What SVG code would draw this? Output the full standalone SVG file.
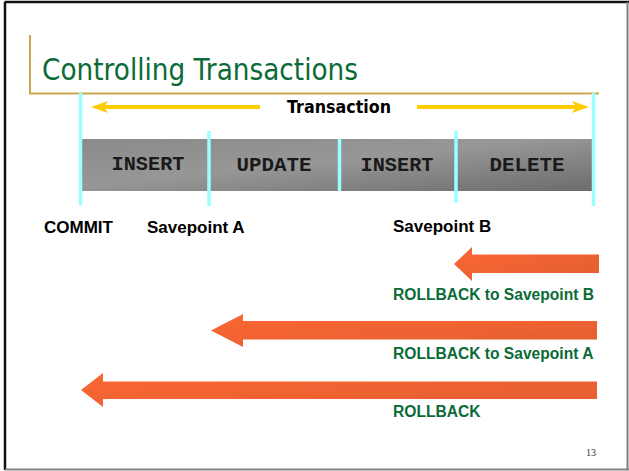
<svg xmlns="http://www.w3.org/2000/svg" width="629" height="471" viewBox="0 0 629 471">
<defs>
<linearGradient id="barGrad" x1="0" y1="0" x2="1" y2="1">
<stop offset="0" stop-color="#8a8a8a"/>
<stop offset="0.45" stop-color="#979797"/>
<stop offset="1" stop-color="#6c6c6c"/>
</linearGradient>
<linearGradient id="arrGrad" x1="0" y1="0" x2="1" y2="1">
<stop offset="0" stop-color="#FB6734"/>
<stop offset="1" stop-color="#E35E2F"/>
</linearGradient>
</defs>
<style>
.title{font-family:"DejaVu Sans",Tahoma,sans-serif;font-size:30px;fill:#0B6B38}
.tx{font-family:"DejaVu Sans",Tahoma,sans-serif;font-size:17px;font-weight:bold;fill:#000}
.op{font-family:"Liberation Mono","Courier New",monospace;font-size:21px;font-weight:bold;fill:#1a1a1a;text-anchor:middle}
.lbl{font-family:"Liberation Sans",Arial,sans-serif;font-size:17px;font-weight:bold;fill:#000}
.rb{font-family:"Liberation Sans",Arial,sans-serif;font-size:15.6px;font-weight:bold;fill:#0B6B38}
.cyan{stroke:#99FFFF;stroke-width:3.5;fill:none}
.gold{stroke:#C9A84F;stroke-width:2;fill:none}
.ylw{stroke:#FFCC00;stroke-width:4;fill:none}
.arrow{fill:url(#arrGrad)}
.pg{font-family:"Liberation Serif","Times New Roman",serif;font-size:10px;fill:#333}
</style>
<rect x="0" y="0" width="629" height="471" fill="#fff"/>
<!-- slide frame -->
<line x1="4.5" y1="2" x2="629" y2="2" stroke="#111" stroke-width="2.5"/>
<line x1="5" y1="2" x2="5" y2="470" stroke="#111" stroke-width="2.5"/>
<line x1="5" y1="469.5" x2="629" y2="469.5" stroke="#808080" stroke-width="2"/>
<line x1="627.5" y1="2" x2="627.5" y2="470" stroke="#808080" stroke-width="2"/>
<g id="title">
<path class="gold" d="M30 35 V93.5 H599"/>
<text class="title" x="42" y="80" textLength="316" lengthAdjust="spacingAndGlyphs">Controlling Transactions</text>
</g>
<g id="transaction">
<line class="ylw" x1="100" y1="107" x2="260" y2="107"/>
<path d="M91 107 L108 101 L104 107 L108 113 Z" fill="#FFCC00"/>
<line class="ylw" x1="417" y1="107" x2="580" y2="107"/>
<path d="M589 107 L572 101 L576 107 L572 113 Z" fill="#FFCC00"/>
<text class="tx" x="287" y="113" textLength="104" lengthAdjust="spacingAndGlyphs">Transaction</text>
</g>
<g id="bar">
<rect x="82" y="139" width="510" height="52" fill="url(#barGrad)"/>
</g>
<g id="op-insert1"><text class="op" x="148" y="170" textLength="73" lengthAdjust="spacingAndGlyphs">INSERT</text></g>
<g id="op-update"><text class="op" x="274" y="171" textLength="75" lengthAdjust="spacingAndGlyphs">UPDATE</text></g>
<g id="op-insert2"><text class="op" x="397" y="171" textLength="73" lengthAdjust="spacingAndGlyphs">INSERT</text></g>
<g id="op-delete"><text class="op" x="527" y="171" textLength="75" lengthAdjust="spacingAndGlyphs">DELETE</text></g>
<g id="markers">
<line class="cyan" x1="80.5" y1="93" x2="80.5" y2="205"/>
<line class="cyan" x1="209" y1="131" x2="209" y2="206"/>
<line class="cyan" x1="339.5" y1="139" x2="339.5" y2="191"/>
<line class="cyan" x1="456" y1="131" x2="456" y2="203"/>
<line class="cyan" x1="593.5" y1="93" x2="593.5" y2="206"/>
</g>
<g id="commit"><text class="lbl" x="44" y="232.5">COMMIT</text></g>
<g id="savepoint-a"><text class="lbl" x="147" y="232.5">Savepoint A</text></g>
<g id="savepoint-b"><text class="lbl" x="393" y="232">Savepoint B</text></g>
<g id="connectors">
<g id="rollback-b">
<path class="arrow" d="M454 264 L472 247 L472 254.5 L599 254.5 L599 273 L472 273 L472 281 Z"/>
<text class="rb" x="393" y="300">ROLLBACK to Savepoint B</text>
</g>
<g id="rollback-a">
<path class="arrow" d="M211 330.5 L243 314 L243 321 L597 321 L597 339.5 L243 339.5 L243 347 Z"/>
<text class="rb" x="393" y="359">ROLLBACK to Savepoint A</text>
</g>
<g id="rollback">
<path class="arrow" d="M81 390 L103 373 L103 381.5 L597 381.5 L597 399 L103 399 L103 407 Z"/>
<text class="rb" x="393" y="417">ROLLBACK</text>
</g>
</g>
<text class="pg" x="596" y="455.5" text-anchor="end">13</text>
</svg>
